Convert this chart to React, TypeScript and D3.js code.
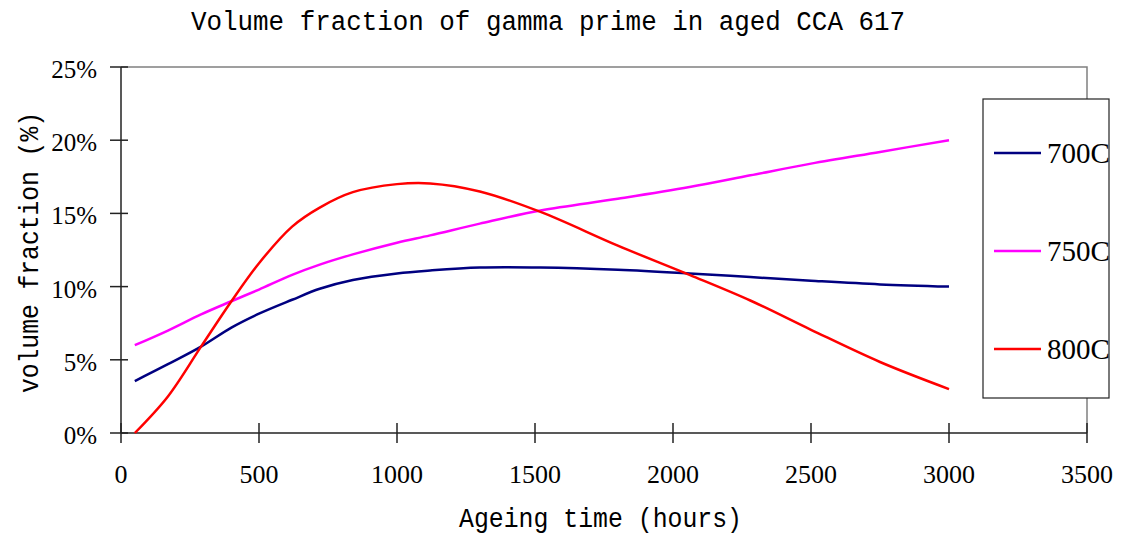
import * as d3 from 'd3';
import React, { useEffect, useRef } from 'react';

const hours = [50, 170, 290, 400, 500, 620, 720, 840, 1000, 1120, 1300, 1520, 1800, 2060, 2280, 2500, 2750, 3000];
const vf700 = [3.55, 4.7, 5.9, 7.2, 8.15, 9.1, 9.85, 10.45, 10.9, 11.1, 11.3, 11.3, 11.15, 10.9, 10.65, 10.4, 10.15, 10.0];
const vf750 = [6.0, 7.0, 8.1, 9.0, 9.8, 10.8, 11.5, 12.2, 13.0, 13.5, 14.3, 15.2, 16.0, 16.8, 17.6, 18.4, 19.2, 20.0];
const vf800 = [0, 2.5, 5.9, 9.0, 11.6, 14.1, 15.4, 16.45, 17.0, 17.05, 16.5, 15.1, 12.8, 10.8, 9.05, 7.05, 4.85, 3.0];
const seriesNames = ['700C', '750C', '800C'];
const seriesColors = ['#000080', '#ff00ff', '#ff0000'];
const xTicks = [0, 500, 1000, 1500, 2000, 2500, 3000, 3500];
const yTicks = [0, 5, 10, 15, 20, 25];

const App = () => {
  const ref = useRef<SVGSVGElement>(null);

  useEffect(() => {
    document.body.style.margin = '0';
    drawChart();
  }, []);

  function drawChart() {
    const svg = d3.select(ref.current);
    svg.selectAll('*').remove();

    const x = d3.scaleLinear().domain([0, 3500]).range([121, 1087]);
    const y = d3.scaleLinear().domain([0, 25]).range([433, 67]);
    const serif = 'Liberation Serif, Times New Roman, serif';
    const mono = 'Liberation Mono, Courier New, monospace';

    svg.append('rect').attr('width', 1121).attr('height', 536).attr('fill', '#fff');

    // grey frame top / right
    svg.append('path')
      .attr('d', `M${x(0)},${y(25)}H${x(3500)}V${y(0)}`)
      .attr('fill', 'none')
      .attr('stroke', '#808080')
      .attr('stroke-width', 1.5);

    // axes
    const axes = svg.append('g').attr('stroke', '#222').attr('stroke-width', 1.5);
    axes.append('line').attr('x1', x(0)).attr('x2', x(3500)).attr('y1', y(0)).attr('y2', y(0));
    axes.append('line').attr('x1', x(0)).attr('x2', x(0)).attr('y1', y(0)).attr('y2', y(25));
    axes.selectAll('.yt').data(yTicks).enter().append('line')
      .attr('x1', x(0) - 11).attr('x2', x(0) + 7)
      .attr('y1', (d) => y(d)).attr('y2', (d) => y(d));
    axes.selectAll('.xt').data(xTicks).enter().append('line')
      .attr('x1', (d) => x(d)).attr('x2', (d) => x(d))
      .attr('y1', y(0) - 10).attr('y2', y(0) + 10);

    svg.selectAll('.ylab').data(yTicks).enter().append('text')
      .attr('x', 97).attr('y', (d) => y(d) + 11)
      .attr('text-anchor', 'end')
      .attr('font-family', serif).attr('font-size', 25)
      .text((d) => `${d}%`);

    svg.selectAll('.xlab').data(xTicks).enter().append('text')
      .attr('x', (d) => x(d)).attr('y', 483)
      .attr('text-anchor', 'middle')
      .attr('font-family', serif).attr('font-size', 26)
      .text((d) => `${d}`);

    // titles
    svg.append('text')
      .attr('x', 191).attr('y', 30)
      .attr('font-family', mono).attr('font-size', 27)
      .attr('textLength', 714).attr('lengthAdjust', 'spacingAndGlyphs')
      .text('Volume fraction of gamma prime in aged CCA 617');
    svg.append('text')
      .attr('x', 459).attr('y', 527)
      .attr('font-family', mono).attr('font-size', 27)
      .attr('textLength', 283).attr('lengthAdjust', 'spacingAndGlyphs')
      .text('Ageing time (hours)');
    svg.append('text')
      .attr('transform', 'translate(38,393) rotate(-90)')
      .attr('font-family', mono).attr('font-size', 27)
      .attr('textLength', 281).attr('lengthAdjust', 'spacingAndGlyphs')
      .text('volume fraction (%)');

    // lines
    const data = [vf700, vf750, vf800];
    const line = d3.line<number>()
      .x((_, i) => x(hours[i]))
      .y((d) => y(d))
      .curve(d3.curveCatmullRom.alpha(0.5));
    data.forEach((vals, k) => {
      svg.append('path')
        .datum(vals)
        .attr('fill', 'none')
        .attr('stroke', seriesColors[k])
        .attr('stroke-width', 2.5)
        .attr('d', line);
    });

    // legend
    const lg = { x: 983, y: 99, w: 126, h: 299 };
    svg.append('clipPath').attr('id', 'lgclip')
      .append('rect').attr('x', lg.x).attr('y', lg.y).attr('width', lg.w).attr('height', lg.h);
    svg.append('rect')
      .attr('x', lg.x).attr('y', lg.y).attr('width', lg.w).attr('height', lg.h)
      .attr('fill', '#fff').attr('stroke', '#222').attr('stroke-width', 1.2);
    const legY = d3.scalePoint<string>().domain(seriesNames).range([153, 349]);
    const items = svg.append('g').attr('clip-path', 'url(#lgclip)');
    seriesNames.forEach((name, k) => {
      items.append('line')
        .attr('x1', 994).attr('x2', 1041)
        .attr('y1', legY(name)!).attr('y2', legY(name)!)
        .attr('stroke', seriesColors[k]).attr('stroke-width', 2.5);
      items.append('text')
        .attr('x', 1047).attr('y', legY(name)! + 10)
        .attr('font-family', serif).attr('font-size', 29)
        .text(name);
    });
  }

  return <svg ref={ref} width={1121} height={536} style={{ display: 'block' }} />;
};

export default App;
